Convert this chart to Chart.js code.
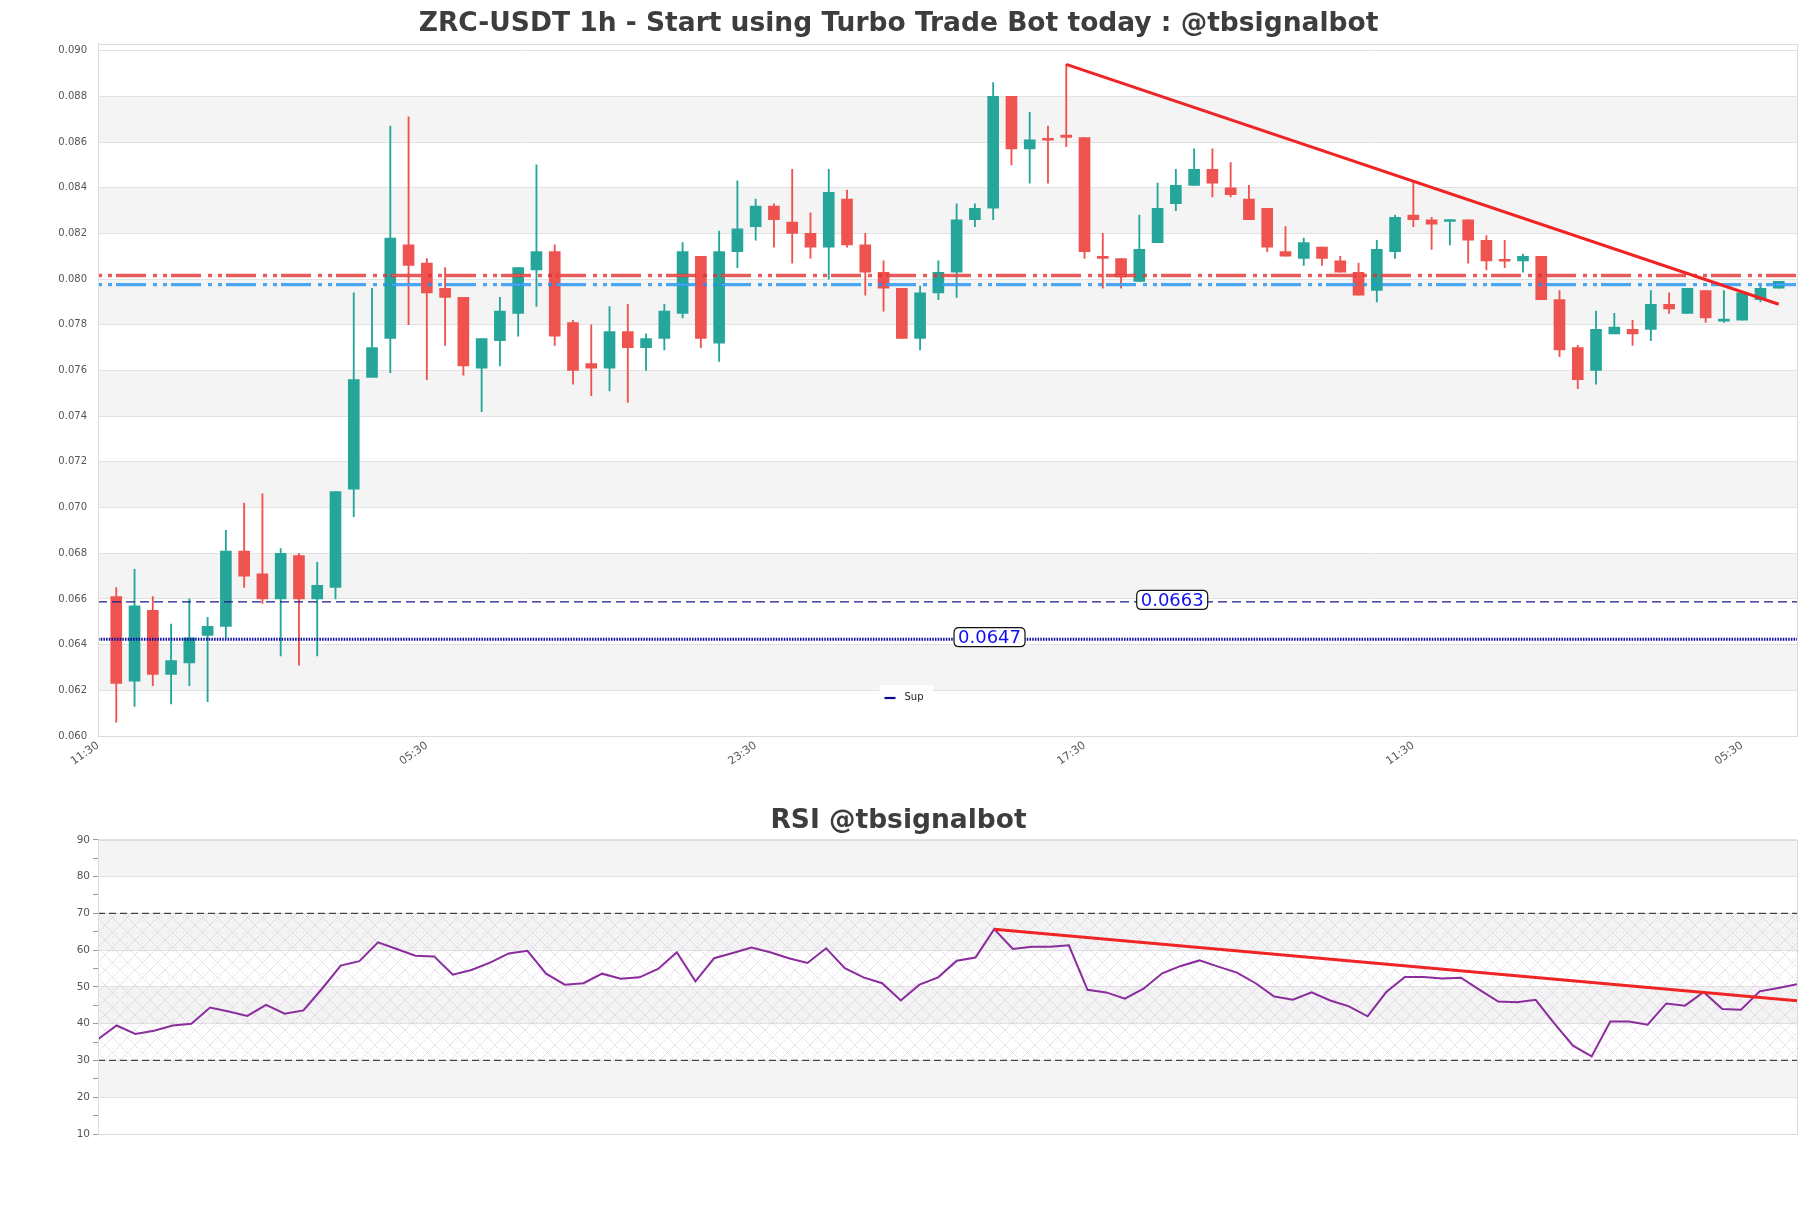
<!DOCTYPE html>
<html><head><meta charset="utf-8">
<script src="https://cdn.jsdelivr.net/npm/chart.js@4.4.1/dist/chart.umd.min.js"></script>
<style>
html,body{margin:0;padding:0;background:#fff;width:1811px;height:1208px;overflow:hidden;}
#w1{position:absolute;left:0;top:0;width:1811px;height:790px;}
#w2{position:absolute;left:0;top:790px;width:1811px;height:418px;}
</style></head><body>
<div id="w1"><canvas id="c1"></canvas></div>
<div id="w2"><canvas id="c2"></canvas></div>
<script>
// ---------------- DATA ----------------
const mainTitle = 'ZRC-USDT 1h - Start using Turbo Trade Bot today : @tbsignalbot';
const rsiTitle = 'RSI @tbsignalbot';
const xTickLabels = ['11:30','05:30','23:30','17:30','11:30','05:30'];

const open = [0.0661,0.0624,0.0655,0.0627,0.0632,0.0644,0.0648,0.0681,0.0671,0.0660,
  0.0679,0.0660,0.0665,0.0708,0.0757,0.0774,0.0815,0.0807,0.0796,0.0792,
  0.0761,0.0773,0.0785,0.0804,0.0812,0.0781,0.0763,0.0761,0.0777,0.0770,
  0.0774,0.0785,0.0810,0.0772,0.0812,0.0823,0.0832,0.0825,0.0820,0.0814,
  0.0835,0.0815,0.0803,0.0796,0.0774,0.0794,0.0803,0.0826,0.0831,0.0880,
  0.0857,0.08612,0.0863,0.0862,0.0810,0.0809,0.0799,0.0816,0.0833,0.0841,
  0.0848,0.0840,0.0835,0.0831,0.0812,0.0809,0.0814,0.0808,0.0803,0.0795,
  0.0812,0.0828,0.0826,0.08252,0.0826,0.0817,0.08082,0.0808,0.0810,0.0791,
  0.0770,0.0760,0.0776,0.0778,0.0778,0.0789,0.0785,0.0795,0.07816,0.0782,
  0.0791,0.0796];
const high = [0.0665,0.0673,0.0661,0.0649,0.0660,0.0652,0.0690,0.0702,0.0706,0.0682,
  0.0680,0.0676,0.0707,0.0794,0.0796,0.0867,0.0871,0.0809,0.0805,0.0792,
  0.0774,0.0792,0.0805,0.0850,0.0815,0.0782,0.0780,0.0788,0.0789,0.0776,
  0.0789,0.0816,0.0810,0.0821,0.0843,0.0835,0.0833,0.0848,0.0829,0.0848,
  0.0839,0.0820,0.0808,0.0796,0.0797,0.0808,0.0833,0.0833,0.0886,0.0880,
  0.0873,0.0867,0.0894,0.0862,0.0820,0.0809,0.0828,0.0842,0.0848,0.0857,
  0.0857,0.0851,0.0841,0.0831,0.0823,0.0818,0.0814,0.0810,0.0807,0.0817,
  0.0828,0.0843,0.0827,0.0826,0.0826,0.0819,0.0817,0.0811,0.0810,0.0795,
  0.0771,0.0786,0.0785,0.0782,0.0795,0.0794,0.0796,0.0795,0.0795,0.0794,
  0.0797,0.0799];
const low = [0.0606,0.0613,0.0622,0.0614,0.0622,0.0615,0.0643,0.0665,0.0658,0.0635,
  0.0631,0.0635,0.0660,0.0696,0.07575,0.0759,0.0780,0.0756,0.0771,0.0758,
  0.0742,0.0762,0.0775,0.0788,0.0771,0.0754,0.0749,0.0751,0.0746,0.0760,
  0.0769,0.0783,0.0770,0.0764,0.0805,0.0817,0.0814,0.0807,0.0809,0.0800,
  0.0814,0.0793,0.0786,0.0774,0.0769,0.0791,0.0792,0.0823,0.0826,0.0850,
  0.0842,0.0842,0.0858,0.0809,0.0796,0.0796,0.0799,0.0816,0.0830,0.0841,
  0.0836,0.0836,0.0826,0.0812,0.0810,0.0806,0.0806,0.0803,0.0793,0.0790,
  0.0809,0.0823,0.0813,0.0815,0.0807,0.0804,0.0805,0.0803,0.0791,0.0766,
  0.0752,0.0754,0.0776,0.0771,0.0773,0.0785,0.0785,0.0781,0.0781,0.0782,
  0.0790,0.0796];
const close = [0.0623,0.0657,0.0627,0.0633,0.0643,0.0648,0.0681,0.0670,0.0660,0.0680,
  0.0660,0.0666,0.0707,0.0756,0.0770,0.0818,0.0806,0.0794,0.0792,0.0762,
  0.0774,0.0786,0.0805,0.0812,0.0775,0.0760,0.0761,0.0777,0.0770,0.0774,
  0.0786,0.0812,0.0774,0.0812,0.0822,0.0832,0.0826,0.0820,0.0814,0.0838,
  0.0815,0.0803,0.0796,0.0774,0.0794,0.0803,0.0826,0.0831,0.0880,0.0857,
  0.0861,0.08608,0.0862,0.0812,0.0809,0.0801,0.0813,0.0831,0.0841,0.0848,
  0.0842,0.0837,0.0826,0.0814,0.0810,0.0816,0.0809,0.0803,0.0793,0.0813,
  0.0827,0.0826,0.0824,0.08258,0.0817,0.0808,0.08078,0.0810,0.0791,0.0769,
  0.0756,0.0778,0.0779,0.0776,0.0789,0.0787,0.0796,0.0783,0.07825,0.0794,
  0.0796,0.0799];

const resistanceLevels = [0.08016, 0.07976];
const supportLevels = [0.06587, 0.06424];
const supportTexts = ['0.0663', '0.0647'];
const trendX = [53, 92];
const trendY = [0.0894, 0.0789];

const rsi = [35.8,39.5,37.2,38.1,39.5,40.0,44.4,43.3,42.1,45.1,
  42.7,43.6,49.5,55.8,57.0,62.1,60.3,58.5,58.3,53.3,
  54.6,56.6,59.1,59.8,53.6,50.6,51.0,53.6,52.2,52.6,
  54.9,59.4,51.5,57.8,59.2,60.7,59.4,57.8,56.5,60.5,
  55.1,52.6,51.0,46.3,50.6,52.6,57.1,58.0,65.7,60.3,
  60.9,60.9,61.3,49.2,48.5,46.8,49.5,53.7,55.7,57.2,
  55.5,53.9,51.0,47.4,46.5,48.5,46.3,44.7,42.0,48.6,
  52.7,52.7,52.3,52.5,49.2,46.0,45.8,46.5,40.1,34.0,
  31.1,40.6,40.6,39.7,45.5,44.9,48.6,44.0,43.8,48.8,
  49.7,50.7];
const rsiTrendX = [48, 91];
const rsiTrendY = [65.7, 46.2];
const rsiLevels = [70, 30];

// ---------------- STYLE ----------------
const UP = '#26a69a', DOWN = '#ef5350';
const labelBoxX = [58.8, 48.8];   // x positions (axis units) of the value boxes
const TITLE_FONT = {family: "'DejaVu Sans', sans-serif", size: 26.5, weight: 'bold'};
Chart.defaults.font.family = "'DejaVu Sans', sans-serif";
Chart.defaults.color = '#555';

const xMax = open.length + 1;
const candleColors = close.map((c, i) => c >= open[i] ? UP : DOWN);

function hline(v, xmax) { return [{x: 0, y: v}, {x: xmax, y: v}]; }

// ---------------- PLUGINS ----------------
const bandsPlugin = {
  id: 'bands',
  beforeDraw(chart, args, opts) {
    const {ctx, chartArea: a, scales: {y}} = chart;
    ctx.save();
    ctx.fillStyle = '#ffffff';
    ctx.fillRect(0, 0, chart.width, chart.height);
    const n = Math.floor((y.max - y.min) / opts.step + 1e-6);
    ctx.fillStyle = '#f4f4f4';
    for (let k = 0; k < n; k++) {
      if (k % 2 !== 1) continue;
      const lo = y.min + k * opts.step, hi = lo + opts.step;
      const p1 = y.getPixelForValue(hi), p2 = y.getPixelForValue(lo);
      ctx.fillRect(a.left, p1, a.right - a.left, p2 - p1);
    }
    ctx.restore();
  },
  afterDraw(chart) {
    const {ctx, chartArea: a} = chart;
    ctx.save();
    ctx.strokeStyle = '#dcdcdc';
    ctx.lineWidth = 1;
    ctx.strokeRect(Math.round(a.left) + 0.5, Math.round(a.top) + 0.5, Math.round(a.right - a.left), Math.round(a.bottom - a.top));
    ctx.restore();
  }
};

function rrect(ctx, x, y, w, h, r) {
  ctx.beginPath();
  ctx.moveTo(x + r, y);
  ctx.lineTo(x + w - r, y); ctx.quadraticCurveTo(x + w, y, x + w, y + r);
  ctx.lineTo(x + w, y + h - r); ctx.quadraticCurveTo(x + w, y + h, x + w - r, y + h);
  ctx.lineTo(x + r, y + h); ctx.quadraticCurveTo(x, y + h, x, y + h - r);
  ctx.lineTo(x, y + r); ctx.quadraticCurveTo(x, y, x + r, y);
  ctx.closePath();
}

const annotPlugin = {
  id: 'annot',
  afterDatasetsDraw(chart) {
    const {ctx, chartArea: a, scales: {x, y}} = chart;
    ctx.save();
    ctx.font = "18px 'DejaVu Sans'";
    ctx.textBaseline = 'middle';
    ctx.textAlign = 'center';
    supportTexts.forEach((t, i) => {
      const px = x.getPixelForValue(labelBoxX[i]);
      const py = y.getPixelForValue(supportLevels[i]) - 2;
      const w = ctx.measureText(t).width + 8, h = 19;
      rrect(ctx, px - w / 2, py - h / 2, w, h, 5);
      ctx.fillStyle = '#ffffff'; ctx.fill();
      ctx.lineWidth = 1.2; ctx.strokeStyle = '#111'; ctx.stroke();
      ctx.fillStyle = '#1010ee';
      ctx.fillText(t, px, py + 1);
    });
    // legend (lower center)
    const ds = chart.data.datasets.find(d => d.label === 'Sup');
    const ly = a.bottom - 39;
    ctx.font = "10px 'DejaVu Sans'";
    const tw = ctx.measureText(ds.label).width;
    const bw = tw + 35, bh = 24;
    const bx = chart.width / 2 - 26;
    ctx.fillStyle = 'rgba(255,255,255,0.9)';
    ctx.fillRect(bx, ly - bh / 2, bw, bh);
    ctx.strokeStyle = '#0a0a8c'; ctx.lineWidth = 2.2; ctx.setLineDash([]);
    ctx.beginPath(); ctx.moveTo(bx + 5, ly + 1); ctx.lineTo(bx + 16, ly + 1); ctx.stroke();
    ctx.fillStyle = '#222'; ctx.textAlign = 'left';
    ctx.fillText(ds.label, bx + 25, ly);
    ctx.restore();
  }
};

const hatchPlugin = {
  id: 'hatch',
  beforeDatasetsDraw(chart) {
    const {ctx, chartArea: a, scales: {y}} = chart;
    const t = document.createElement('canvas');
    t.width = 15; t.height = 15;
    const g = t.getContext('2d');
    g.strokeStyle = 'rgba(175,150,195,0.45)';
    g.lineWidth = 0.6;
    g.beginPath(); g.moveTo(0, 0); g.lineTo(15, 15); g.moveTo(15, 0); g.lineTo(0, 15); g.stroke();
    g.fillStyle = 'rgba(190,170,210,0.35)';
    g.fillRect(7, 3, 1, 1); g.fillRect(7, 11, 1, 1); g.fillRect(3, 7, 1, 1); g.fillRect(11, 7, 1, 1);
    const pat = ctx.createPattern(t, 'repeat');
    const p1 = y.getPixelForValue(rsiLevels[0]), p2 = y.getPixelForValue(rsiLevels[1]);
    ctx.save();
    ctx.fillStyle = pat;
    ctx.fillRect(a.left, p1, a.right - a.left, p2 - p1);
    ctx.restore();
  }
};

// ---------------- MAIN CHART ----------------
const resBase = {type: 'line', order: 3, borderWidth: 3.4, borderDash: [4, 6, 4, 4, 30, 7], pointRadius: 0, fill: false};
const resInner = {type: 'line', order: 3, borderColor: '#ffffff', borderWidth: 1.6, borderDash: [0, 19, 8, 1, 9, 1, 9, 8], pointRadius: 0, fill: false};

new Chart(document.getElementById('c1'), {
  type: 'bar',
  data: {
    datasets: [
      { type: 'bar', label: 'wick', order: 5, grouped: false,
        data: open.map((o, i) => ({x: i + 1, y: [low[i], high[i]]})),
        backgroundColor: candleColors, barThickness: 1.2, borderWidth: 0 },
      { type: 'bar', label: 'body', order: 4, grouped: false,
        data: open.map((o, i) => ({x: i + 1, y: [o, close[i]]})),
        backgroundColor: candleColors, barThickness: 11, minBarLength: 2, borderWidth: 0 },
      Object.assign({label: 'res1', data: hline(resistanceLevels[0], xMax), borderColor: 'rgba(225,50,50,0.8)'}, resBase),
      Object.assign({label: 'res1w', data: hline(resistanceLevels[0], xMax)}, resInner),
      Object.assign({label: 'res2', data: hline(resistanceLevels[1], xMax), borderColor: 'rgba(30,145,240,0.8)'}, resBase),
      Object.assign({label: 'res2w', data: hline(resistanceLevels[1], xMax)}, resInner),
      { type: 'line', label: 'sup2', order: 3, data: hline(supportLevels[0], xMax),
        borderColor: '#1a1a90', borderWidth: 1.4, borderDash: [9, 5], pointRadius: 0, fill: false },
      { type: 'line', label: 'Sup', order: 3, data: hline(supportLevels[1], xMax),
        borderColor: '#0a0aa0', borderWidth: 3, borderDash: [1.5, 1.2], pointRadius: 0, fill: false },
      { type: 'line', label: 'trend', order: 1,
        data: trendX.map((v, i) => ({x: v, y: trendY[i]})),
        borderColor: '#f02424', borderWidth: 3, pointRadius: 0, fill: false }
    ]
  },
  options: {
    responsive: true, maintainAspectRatio: false, animation: false, events: [],
    layout: {padding: {left: 0, right: 14, top: 0, bottom: 14}},
    plugins: {
      legend: {display: false}, tooltip: {enabled: false},
      title: {display: true, text: mainTitle, color: '#3d3d3d',
        font: TITLE_FONT, padding: {top: 8, bottom: 4}},
      bands: {step: 0.002}
    },
    scales: {
      x: { type: 'linear', min: 0, max: xMax, offset: false,
        grid: {display: false, drawTicks: false}, border: {display: false},
        ticks: {stepSize: 18, includeBounds: false, autoSkip: false, minRotation: 35, maxRotation: 35,
          padding: 3, color: '#555', font: {size: 11},
          callback: (v) => { const k = Math.round(v / 18); return (Math.abs(v - k * 18) < 1e-6 && xTickLabels[k]) ? xTickLabels[k] : ''; }},
        afterFit: (s) => { s.height = 40; } },
      y: { type: 'linear', min: 0.060, max: 0.0903,
        grid: {color: '#e2e2e2', drawTicks: false}, border: {color: '#dcdcdc'},
        ticks: {stepSize: 0.002, includeBounds: false, padding: 11, color: '#555', font: {size: 10},
          callback: (v) => Number(v).toFixed(3)},
        afterFit: (s) => { s.width = 98; } }
    }
  },
  plugins: [bandsPlugin, annotPlugin]
});

// ---------------- RSI CHART ----------------
new Chart(document.getElementById('c2'), {
  type: 'line',
  data: {
    datasets: [
      { label: 'RSI', order: 2, data: rsi.map((v, i) => ({x: i, y: v})),
        borderColor: '#8a2c9c', borderWidth: 2, pointRadius: 0, fill: false, tension: 0 },
      { label: 'ob', order: 3, data: hline(rsiLevels[0], rsi.length - 1),
        borderColor: '#444', borderWidth: 1.3, borderDash: [7, 4], pointRadius: 0, fill: false },
      { label: 'os', order: 3, data: hline(rsiLevels[1], rsi.length - 1),
        borderColor: '#444', borderWidth: 1.3, borderDash: [7, 4], pointRadius: 0, fill: false },
      { label: 'trend', order: 1, data: rsiTrendX.map((v, i) => ({x: v, y: rsiTrendY[i]})),
        borderColor: '#f02424', borderWidth: 3, pointRadius: 0, fill: false }
    ]
  },
  options: {
    responsive: true, maintainAspectRatio: false, animation: false, events: [],
    layout: {padding: {left: 0, right: 14, top: 8, bottom: 74}},
    plugins: {
      legend: {display: false}, tooltip: {enabled: false},
      title: {display: true, text: rsiTitle, color: '#3d3d3d',
        font: TITLE_FONT, padding: {top: 7, bottom: 3}},
      bands: {step: 10}
    },
    scales: {
      x: { type: 'linear', min: 0, max: rsi.length - 1, display: false },
      y: { type: 'linear', min: 10, max: 90,
        grid: {color: (c) => (c.tick && c.tick.value % 10 === 0) ? '#e2e2e2' : 'rgba(0,0,0,0)',
          tickColor: '#999', tickLength: 5, drawTicks: true},
        border: {color: '#dcdcdc'},
        ticks: {stepSize: 5, autoSkip: false, padding: 3, color: '#555', font: {size: 10.5},
          callback: (v) => (v % 10 === 0 ? String(v) : '')},
        afterFit: (s) => { s.width = 98; } }
    }
  },
  plugins: [bandsPlugin, hatchPlugin]
});
</script>
</body></html>
